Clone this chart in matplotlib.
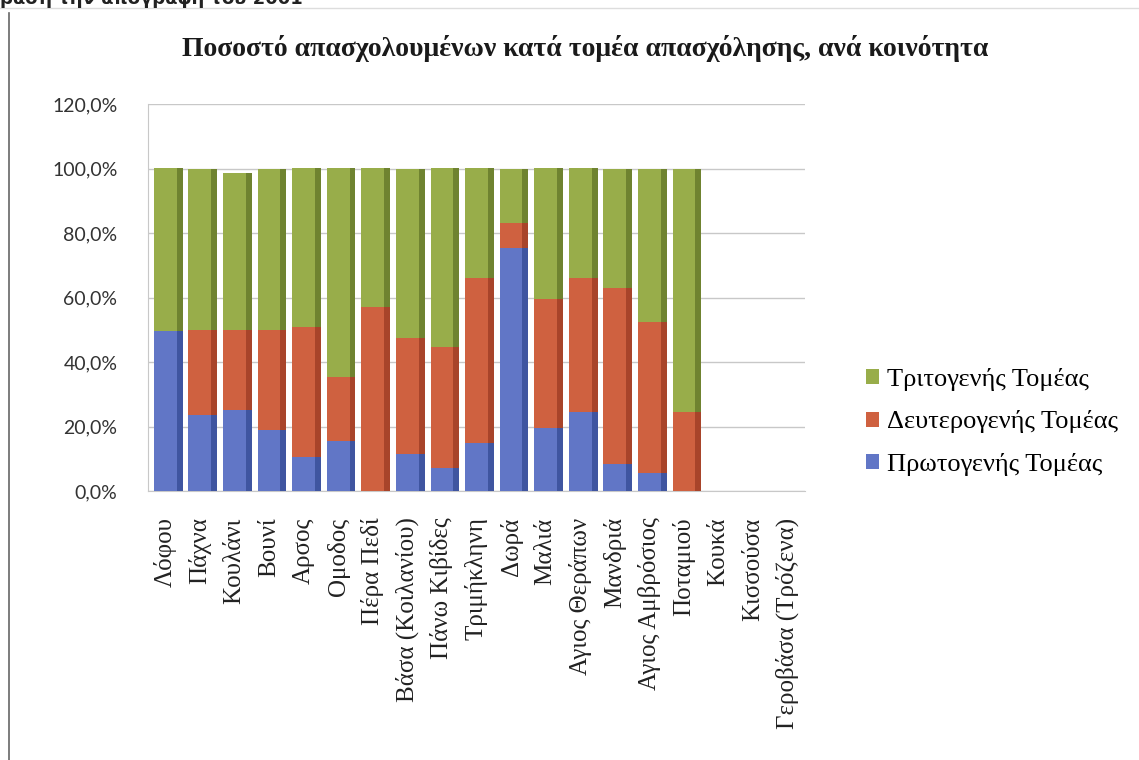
import matplotlib
matplotlib.use('Agg')
from matplotlib import pyplot as plt
from matplotlib.ticker import MultipleLocator, FuncFormatter
from matplotlib.lines import Line2D
from matplotlib.patches import Patch
import numpy as np

# κοινότητες και ποσοστά (%) ανά τομέα
communities = ['Λόφου', 'Πάχνα', 'Κουλάνι', 'Βουνί', 'Αρσος', 'Ομοδος', 'Πέρα Πεδί',
               'Βάσα (Κοιλανίου)', 'Πάνω Κιβίδες', 'Τριμήκληνη', 'Δωρά', 'Μαλιά',
               'Αγιος Θεράπων', 'Μανδριά', 'Αγιος Αμβρόσιος', 'Ποταμιού', 'Κουκά',
               'Κισσούσα', 'Γεροβάσα (Τρόζενα)']
primary = [49.5, 23.5, 25.0, 19.0, 10.5, 15.5, 0.0, 11.5, 7.0, 15.0, 75.5, 19.5,
           24.5, 8.5, 5.5, 0.0, 0.0, 0.0, 0.0]
secondary = [0.0, 26.5, 25.0, 31.0, 40.5, 20.0, 57.0, 36.0, 37.5, 51.0, 7.5, 40.0,
             41.5, 54.5, 47.0, 24.5, 0.0, 0.0, 0.0]
tertiary = [50.5, 50.0, 48.5, 50.0, 49.0, 64.5, 43.0, 52.5, 55.5, 34.0, 17.0, 40.5,
            34.0, 37.0, 47.5, 75.5, 0.0, 0.0, 0.0]
series_names = ['Πρωτογενής Τομέας', 'Δευτερογενής Τομέας', 'Τριτογενής Τομέας']
title = 'Ποσοστό απασχολουμένων κατά τομέα απασχόλησης, ανά κοινότητα'

# χρώματα: μπροστινή όψη / πλαϊνή όψη (ψευδο-3D)
front = ['#6176c6', '#cf6140', '#98ad4a']
side = ['#3f55a0', '#a8442a', '#6f8330']

serif = ['Liberation Serif', 'DejaVu Serif']

fig = plt.figure(figsize=(11.39, 7.6), dpi=100)
ax = fig.add_axes([148/1139, 269/760, 657/1139, 387/760])

x = np.arange(len(communities))
w = 0.66
sw = 0.17
bottom = np.zeros(len(communities))
for vals, fc, sc in zip([primary, secondary, tertiary], front, side):
    vals = np.array(vals)
    ax.bar(x, vals, w, bottom=bottom, color=fc, linewidth=0, zorder=3)
    ax.bar(x + w/2 + sw/2, vals, sw, bottom=bottom, color=sc, linewidth=0, zorder=3)
    bottom += vals

ax.set_xlim(-0.5, len(communities) - 0.5)
ax.set_ylim(0, 120)
ax.yaxis.set_major_locator(MultipleLocator(20))
ax.yaxis.set_major_formatter(FuncFormatter(lambda v, p: '{:.1f}%'.format(v).replace('.', ',')))
ax.grid(axis='y', color='#c8c8c8', linewidth=1.0, zorder=0)
ax.set_axisbelow(True)
for s in ['top', 'right']:
    ax.spines[s].set_visible(False)
ax.spines['left'].set_color('#c8c8c8')
ax.spines['bottom'].set_color('#c8c8c8')
ax.tick_params(axis='y', length=0, pad=22, labelcolor='#333333')
for lab in ax.get_yticklabels():
    lab.set_family(['Lato', 'DejaVu Sans'])
    lab.set_fontsize(14)
ax.tick_params(axis='x', length=0, pad=19)
ax.set_xticks(x)
ax.set_xticklabels(communities, rotation=90, fontsize=18, family=serif, va='top', color='#222222')

fig.text(585/1139, 1 - 48/760, title, ha='center', va='center', fontsize=20,
         fontweight='bold', family=serif, color='#1a1a1a')

# κομμένο κείμενο στην κορυφή της σελίδας
fig.text(0.0, 1 - 4/760, 'βάση την απογραφή του 2001', ha='left', va='baseline',
         fontsize=13, fontweight='bold', color='#222222')
fig.add_artist(Line2D([9/1139, 9/1139], [0, 1 - 13/760], transform=fig.transFigure,
                      color='#666666', linewidth=1.2))
fig.add_artist(Line2D([0, 1], [1 - 8/760, 1 - 8/760], transform=fig.transFigure,
                      color='#dddddd', linewidth=1.0))

handles = [Patch(facecolor=front[i], label=series_names[i]) for i in [2, 1, 0]]
fig.legend(handles=handles, loc='center left', bbox_to_anchor=(866/1139, 1 - 422/760),
           frameon=False, prop={'family': serif, 'size': 19}, handlelength=0.5,
           handleheight=0.5, handletextpad=0.3, labelspacing=0.75, borderaxespad=0,
           borderpad=0)

plt.savefig('out.png', dpi=100)
